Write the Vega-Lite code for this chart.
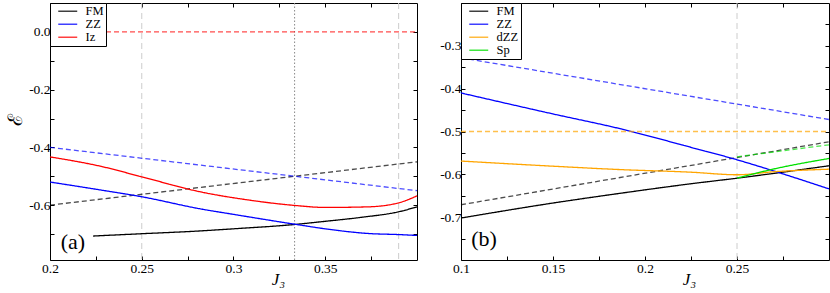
{
  "$schema": "https://vega.github.io/schema/vega-lite/v6.json",
  "padding": {"left": 5, "top": 2, "right": 0, "bottom": 0},
  "background": "white",
  "datasets": {
    "seriesA": [
      {"model": "FM", "kind": "solid", "x": 0.2235, "y": -0.707},
      {"model": "FM", "kind": "solid", "x": 0.25, "y": -0.699},
      {"model": "FM", "kind": "solid", "x": 0.28, "y": -0.69},
      {"model": "FM", "kind": "solid", "x": 0.3, "y": -0.682},
      {"model": "FM", "kind": "solid", "x": 0.3333, "y": -0.667},
      {"model": "FM", "kind": "solid", "x": 0.35, "y": -0.656},
      {"model": "FM", "kind": "solid", "x": 0.37, "y": -0.642},
      {"model": "FM", "kind": "solid", "x": 0.39, "y": -0.623},
      {"model": "FM", "kind": "solid", "x": 0.4, "y": -0.606},
      {"model": "FM", "kind": "dashed", "x": 0.2, "y": -0.6},
      {"model": "FM", "kind": "dashed", "x": 0.4, "y": -0.45},
      {"model": "ZZ", "kind": "solid", "x": 0.2, "y": -0.52},
      {"model": "ZZ", "kind": "solid", "x": 0.228, "y": -0.548},
      {"model": "ZZ", "kind": "solid", "x": 0.25, "y": -0.571},
      {"model": "ZZ", "kind": "solid", "x": 0.282, "y": -0.613},
      {"model": "ZZ", "kind": "solid", "x": 0.3, "y": -0.632},
      {"model": "ZZ", "kind": "solid", "x": 0.3333, "y": -0.666},
      {"model": "ZZ", "kind": "solid", "x": 0.35, "y": -0.682},
      {"model": "ZZ", "kind": "solid", "x": 0.373, "y": -0.698},
      {"model": "ZZ", "kind": "solid", "x": 0.39, "y": -0.702},
      {"model": "ZZ", "kind": "solid", "x": 0.4, "y": -0.705},
      {"model": "ZZ", "kind": "dashed", "x": 0.2, "y": -0.4},
      {"model": "ZZ", "kind": "dashed", "x": 0.4, "y": -0.55},
      {"model": "Iz", "kind": "solid", "x": 0.2, "y": -0.433},
      {"model": "Iz", "kind": "solid", "x": 0.228, "y": -0.466},
      {"model": "Iz", "kind": "solid", "x": 0.25, "y": -0.502},
      {"model": "Iz", "kind": "solid", "x": 0.282, "y": -0.554},
      {"model": "Iz", "kind": "solid", "x": 0.309, "y": -0.583},
      {"model": "Iz", "kind": "solid", "x": 0.3333, "y": -0.601},
      {"model": "Iz", "kind": "solid", "x": 0.35, "y": -0.608},
      {"model": "Iz", "kind": "solid", "x": 0.373, "y": -0.606},
      {"model": "Iz", "kind": "solid", "x": 0.39, "y": -0.592},
      {"model": "Iz", "kind": "solid", "x": 0.4, "y": -0.568},
      {"model": "Iz", "kind": "dashed", "x": 0.2, "y": 0.0},
      {"model": "Iz", "kind": "dashed", "x": 0.4, "y": 0.0}
    ],
    "seriesB": [
      {"model": "FM", "kind": "solid", "x": 0.1, "y": -0.702},
      {"model": "FM", "kind": "solid", "x": 0.15, "y": -0.667},
      {"model": "FM", "kind": "solid", "x": 0.187, "y": -0.644},
      {"model": "FM", "kind": "solid", "x": 0.225, "y": -0.622},
      {"model": "FM", "kind": "solid", "x": 0.25, "y": -0.609},
      {"model": "FM", "kind": "solid", "x": 0.3, "y": -0.58},
      {"model": "FM", "kind": "dashed", "x": 0.1, "y": -0.671},
      {"model": "FM", "kind": "dashed", "x": 0.3, "y": -0.524},
      {"model": "ZZ", "kind": "solid", "x": 0.1, "y": -0.41},
      {"model": "ZZ", "kind": "solid", "x": 0.15, "y": -0.459},
      {"model": "ZZ", "kind": "solid", "x": 0.187, "y": -0.494},
      {"model": "ZZ", "kind": "solid", "x": 0.225, "y": -0.537},
      {"model": "ZZ", "kind": "solid", "x": 0.25, "y": -0.566},
      {"model": "ZZ", "kind": "solid", "x": 0.275, "y": -0.599},
      {"model": "ZZ", "kind": "solid", "x": 0.3, "y": -0.634},
      {"model": "ZZ", "kind": "dashed", "x": 0.1, "y": -0.328},
      {"model": "ZZ", "kind": "dashed", "x": 0.3, "y": -0.472},
      {"model": "dZZ", "kind": "solid", "x": 0.1, "y": -0.569},
      {"model": "dZZ", "kind": "solid", "x": 0.15, "y": -0.581},
      {"model": "dZZ", "kind": "solid", "x": 0.187, "y": -0.589},
      {"model": "dZZ", "kind": "solid", "x": 0.225, "y": -0.595},
      {"model": "dZZ", "kind": "solid", "x": 0.25, "y": -0.601},
      {"model": "dZZ", "kind": "solid", "x": 0.27, "y": -0.594},
      {"model": "dZZ", "kind": "solid", "x": 0.3, "y": -0.588},
      {"model": "dZZ", "kind": "dashed", "x": 0.1, "y": -0.5},
      {"model": "dZZ", "kind": "dashed", "x": 0.3, "y": -0.5},
      {"model": "Sp", "kind": "solid", "x": 0.25, "y": -0.609},
      {"model": "Sp", "kind": "solid", "x": 0.2685, "y": -0.589},
      {"model": "Sp", "kind": "solid", "x": 0.3, "y": -0.563},
      {"model": "Sp", "kind": "dashed", "x": 0.25, "y": -0.559},
      {"model": "Sp", "kind": "dashed", "x": 0.3, "y": -0.531}
    ],
    "refA": [{"x": 0.25}, {"x": 0.39}],
    "refA2": [{"x": 0.3333}],
    "refB": [{"x": 0.25}],
    "labelA": [{"x": 0.2125, "y": -0.726, "label": "(a)"}],
    "labelB": [{"x": 0.1125, "y": -0.752, "label": "(b)"}]
  },
  "hconcat": [
    {
      "width": 367,
      "height": 257,
      "layer": [
        {
          "data": {"name": "refA"},
          "mark": {"type": "rule", "strokeWidth": 1, "color": "#cccccc", "strokeDash": [6, 4]},
          "encoding": {
            "x": {"field": "x", "type": "quantitative", "scale": {"domain": [0.2, 0.4], "nice": false, "zero": false},
              "axis": {"orient": "top", "values": [0.2, 0.225, 0.25, 0.275, 0.3, 0.325, 0.35, 0.375], "labels": false, "title": null}}
          }
        },
        {
          "data": {"name": "refA2"},
          "mark": {"type": "rule", "strokeWidth": 1, "color": "#888888", "strokeDash": [1.5, 2]},
          "encoding": {
            "x": {"field": "x", "type": "quantitative", "scale": {"domain": [0.2, 0.4], "nice": false, "zero": false}, "axis": null}
          }
        },
        {
          "data": {"name": "seriesA"},
          "mark": {"type": "line", "strokeWidth": 1.3, "interpolate": "monotone"},
          "encoding": {
            "x": {"field": "x", "type": "quantitative", "scale": {"domain": [0.2, 0.4], "nice": false, "zero": false},
              "axis": {"orient": "bottom", "values": [0.2, 0.225, 0.25, 0.275, 0.3, 0.325, 0.35, 0.375], "labelPadding": 5,
                "labelExpr": "abs(datum.value*20 - round(datum.value*20)) < 0.001 ? format(datum.value, '~g') : ''",
                "title": "J₃", "titleFontStyle": "italic", "titleFontSize": 17, "titleX": 228, "titlePadding": -3, "titleAlign": "center"}},
            "y": {"field": "y", "type": "quantitative", "scale": {"domain": [-0.79, 0.1], "nice": false, "zero": false},
              "axis": {"orient": "left", "values": [-0.7, -0.6, -0.5, -0.4, -0.3, -0.2, -0.1, 0.0], "labelPadding": 4,
                "labelExpr": "abs(datum.value*5 - round(datum.value*5)) < 0.001 ? replace(format(datum.value, '.1f'), '\u2212', '-') : ''",
                "title": "ℰ", "titleFontSize": 20, "titlePadding": 3, "titleY": 116}},
            "color": {"field": "model", "type": "nominal", "scale": {"domain": ["FM", "ZZ", "Iz"], "range": ["#000000", "#0000ff", "#ff0000"]},
              "legend": {"title": null}},
            "strokeDash": {"field": "kind", "type": "nominal", "scale": {"domain": ["solid", "dashed"], "range": [[1, 0], [5, 3]]}, "legend": null},
            "opacity": {"field": "kind", "type": "nominal", "scale": {"domain": ["solid", "dashed"], "range": [1, 0.7]}, "legend": null}
          }
        },
        {
          "data": {"name": "labelA"},
          "mark": {"type": "text", "fontSize": 22, "font": "Liberation Serif", "align": "center", "baseline": "middle"},
          "encoding": {
            "x": {"field": "x", "type": "quantitative", "scale": {"domain": [0.2, 0.4], "nice": false, "zero": false}, "axis": null},
            "y": {"field": "y", "type": "quantitative", "scale": {"domain": [-0.79, 0.1], "nice": false, "zero": false},
              "axis": {"orient": "right", "values": [-0.7, -0.6, -0.5, -0.4, -0.3, -0.2, -0.1, 0.0], "labels": false, "title": null}},
            "text": {"field": "label"}
          }
        }
      ],
      "resolve": {"axis": {"x": "independent", "y": "independent"}}
    },
    {
      "width": 368,
      "height": 257,
      "layer": [
        {
          "data": {"name": "refB"},
          "mark": {"type": "rule", "strokeWidth": 1, "color": "#cccccc", "strokeDash": [6, 4]},
          "encoding": {
            "x": {"field": "x", "type": "quantitative", "scale": {"domain": [0.1, 0.3], "nice": false, "zero": false},
              "axis": {"orient": "top", "values": [0.1, 0.125, 0.15, 0.175, 0.2, 0.225, 0.25, 0.275], "labels": false, "title": null}}
          }
        },
        {
          "data": {"name": "seriesB"},
          "mark": {"type": "line", "strokeWidth": 1.3, "interpolate": "monotone"},
          "encoding": {
            "x": {"field": "x", "type": "quantitative", "scale": {"domain": [0.1, 0.3], "nice": false, "zero": false},
              "axis": {"orient": "bottom", "values": [0.1, 0.125, 0.15, 0.175, 0.2, 0.225, 0.25, 0.275], "labelPadding": 5,
                "labelExpr": "abs(datum.value*20 - round(datum.value*20)) < 0.001 ? format(datum.value, '~g') : ''",
                "title": "J₃", "titleFontStyle": "italic", "titleFontSize": 17, "titleX": 228, "titlePadding": -3, "titleAlign": "center"}},
            "y": {"field": "y", "type": "quantitative", "scale": {"domain": [-0.8, -0.2], "nice": false, "zero": false},
              "axis": {"orient": "left", "values": [-0.75, -0.7, -0.65, -0.6, -0.55, -0.5, -0.45, -0.4, -0.35, -0.3, -0.25], "labelPadding": 4,
                "labelExpr": "abs(datum.value*10 - round(datum.value*10)) < 0.001 ? replace(format(datum.value, '.1f'), '\u2212', '-') : ''",
                "title": null}},
            "color": {"field": "model", "type": "nominal", "scale": {"domain": ["FM", "ZZ", "dZZ", "Sp"], "range": ["#000000", "#0000ff", "#ffa500", "#00e000"]},
              "legend": {"title": null}},
            "strokeDash": {"field": "kind", "type": "nominal", "scale": {"domain": ["solid", "dashed"], "range": [[1, 0], [5, 3]]}, "legend": null},
            "opacity": {"field": "kind", "type": "nominal", "scale": {"domain": ["solid", "dashed"], "range": [1, 0.7]}, "legend": null}
          }
        },
        {
          "data": {"name": "labelB"},
          "mark": {"type": "text", "fontSize": 22, "font": "Liberation Serif", "align": "center", "baseline": "middle"},
          "encoding": {
            "x": {"field": "x", "type": "quantitative", "scale": {"domain": [0.1, 0.3], "nice": false, "zero": false}, "axis": null},
            "y": {"field": "y", "type": "quantitative", "scale": {"domain": [-0.8, -0.2], "nice": false, "zero": false},
              "axis": {"orient": "right", "values": [-0.75, -0.7, -0.65, -0.6, -0.55, -0.5, -0.45, -0.4, -0.35, -0.3, -0.25], "labels": false, "title": null}},
            "text": {"field": "label"}
          }
        }
      ],
      "resolve": {"axis": {"x": "independent", "y": "independent"}}
    }
  ],
  "spacing": 44,
  "bounds": "flush",
  "resolve": {"scale": {"color": "independent", "strokeDash": "independent", "opacity": "independent"}, "legend": {"color": "independent"}},
  "config": {
    "font": "Liberation Serif",
    "view": {"stroke": null},
    "axis": {
      "grid": false, "domainColor": "black", "domainWidth": 1, "tickColor": "black", "tickWidth": 1, "tickSize": -4,
      "labelFont": "Liberation Serif", "labelFontSize": 13.5, "labelColor": "black",
      "labelFlush": false, "labelOverlap": false,
      "titleFont": "Liberation Serif", "titleFontWeight": "normal", "titleColor": "black"
    },
    "legend": {
      "orient": "top-left", "offset": 0, "fillColor": "white", "strokeColor": "black", "padding": 2,
      "symbolType": "M0,0L6,0", "symbolStrokeWidth": 1.5, "symbolSize": 40, "symbolOpacity": 0.75,
      "labelFont": "Liberation Serif", "labelFontSize": 12.5, "labelColor": "black", "rowPadding": 0, "labelOffset": 21
    }
  }
}
